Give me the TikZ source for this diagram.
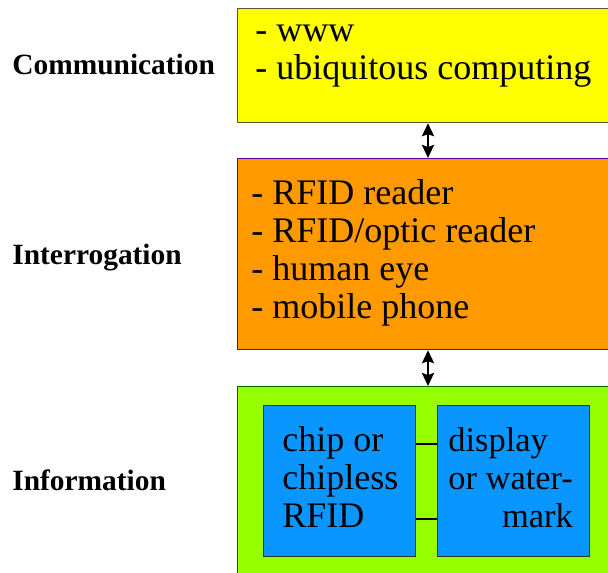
\documentclass[tikz,border=0pt]{standalone}
\usepackage{fontspec}
\setmainfont{Liberation Serif}
\usetikzlibrary{arrows.meta}

\definecolor{commfill}{RGB}{255,255,0}
\definecolor{interfill}{RGB}{255,153,0}
\definecolor{infofill}{RGB}{150,255,0}
\definecolor{tagfill}{RGB}{10,150,255}

\tikzset{
  layer/.style={draw, line width=0.6pt, anchor=north west, minimum width=201.5pt},
  tagbox/.style={draw=black!80, fill=tagfill, line width=0.6pt, anchor=north west,
    minimum width=76pt, minimum height=75.5pt},
  rowname/.style={anchor=base west, inner sep=0pt, font=\fontsize{14.7}{16}\selectfont\bfseries},
  items/.style={anchor=base west, inner sep=0pt, align=left, font=\fontsize{18}{19}\selectfont},
  dbl/.style={{Stealth[length=6.5pt,width=6pt,inset=1pt]}-{Stealth[length=6.5pt,width=6pt,inset=1pt]}, line width=1.2pt}
}

\begin{document}
\begin{tikzpicture}[x=0.5pt, y=-0.5pt]
\clip (0,0) rectangle (608,572);

% the three layers
\node[layer, draw=black!75!yellow, fill=commfill, minimum height=57pt] (comm) at (237,8) {};
\node[layer, draw=blue!60!red, fill=interfill, minimum height=95.5pt] (inter) at (237,158) {};
\node[layer, draw=black!60!green, fill=infofill, minimum height=107pt] (info) at (237,386) {};

% names on the left
\node[rowname] (commname) at (12,75) {Communication};
\node[rowname] (intername) at (12,264) {Interrogation};
\node[rowname] (infoname) at (12,490) {Information};

% contents (anchored at the last line)
\node[items] (commtext) at (255,80) {- www\\- ubiquitous computing};
\node[items] (intertext) at (251,318) {- RFID reader\\- RFID/optic reader\\- human eye\\- mobile phone};

\node[tagbox] (chip) at (263,405) {};
\node[tagbox] (disp) at (437,405) {};
\node[items] (chiptext) at (282,527) {chip or\\chipless\\RFID};
\node[anchor=base west, inner sep=0pt, font=\fontsize{17.2}{19}\selectfont] (disptext) at (448,527)
  {\begin{tabular}[b]{@{}l@{}}display\\or water-\\\multicolumn{1}{@{}r@{}}{mark}\end{tabular}};

\draw[line width=1pt] ([yshift=18.75pt]chip.east) -- ([yshift=18.75pt]disp.west);
\draw[line width=1pt] ([yshift=-18.75pt]chip.east) -- ([yshift=-18.75pt]disp.west);

% arrows between the layers
\coordinate (mid) at (428,0);
\draw[dbl] (comm.south -| mid) -- (inter.north -| mid);
\draw[dbl] (inter.south -| mid) -- (info.north -| mid);
\end{tikzpicture}
\end{document}
